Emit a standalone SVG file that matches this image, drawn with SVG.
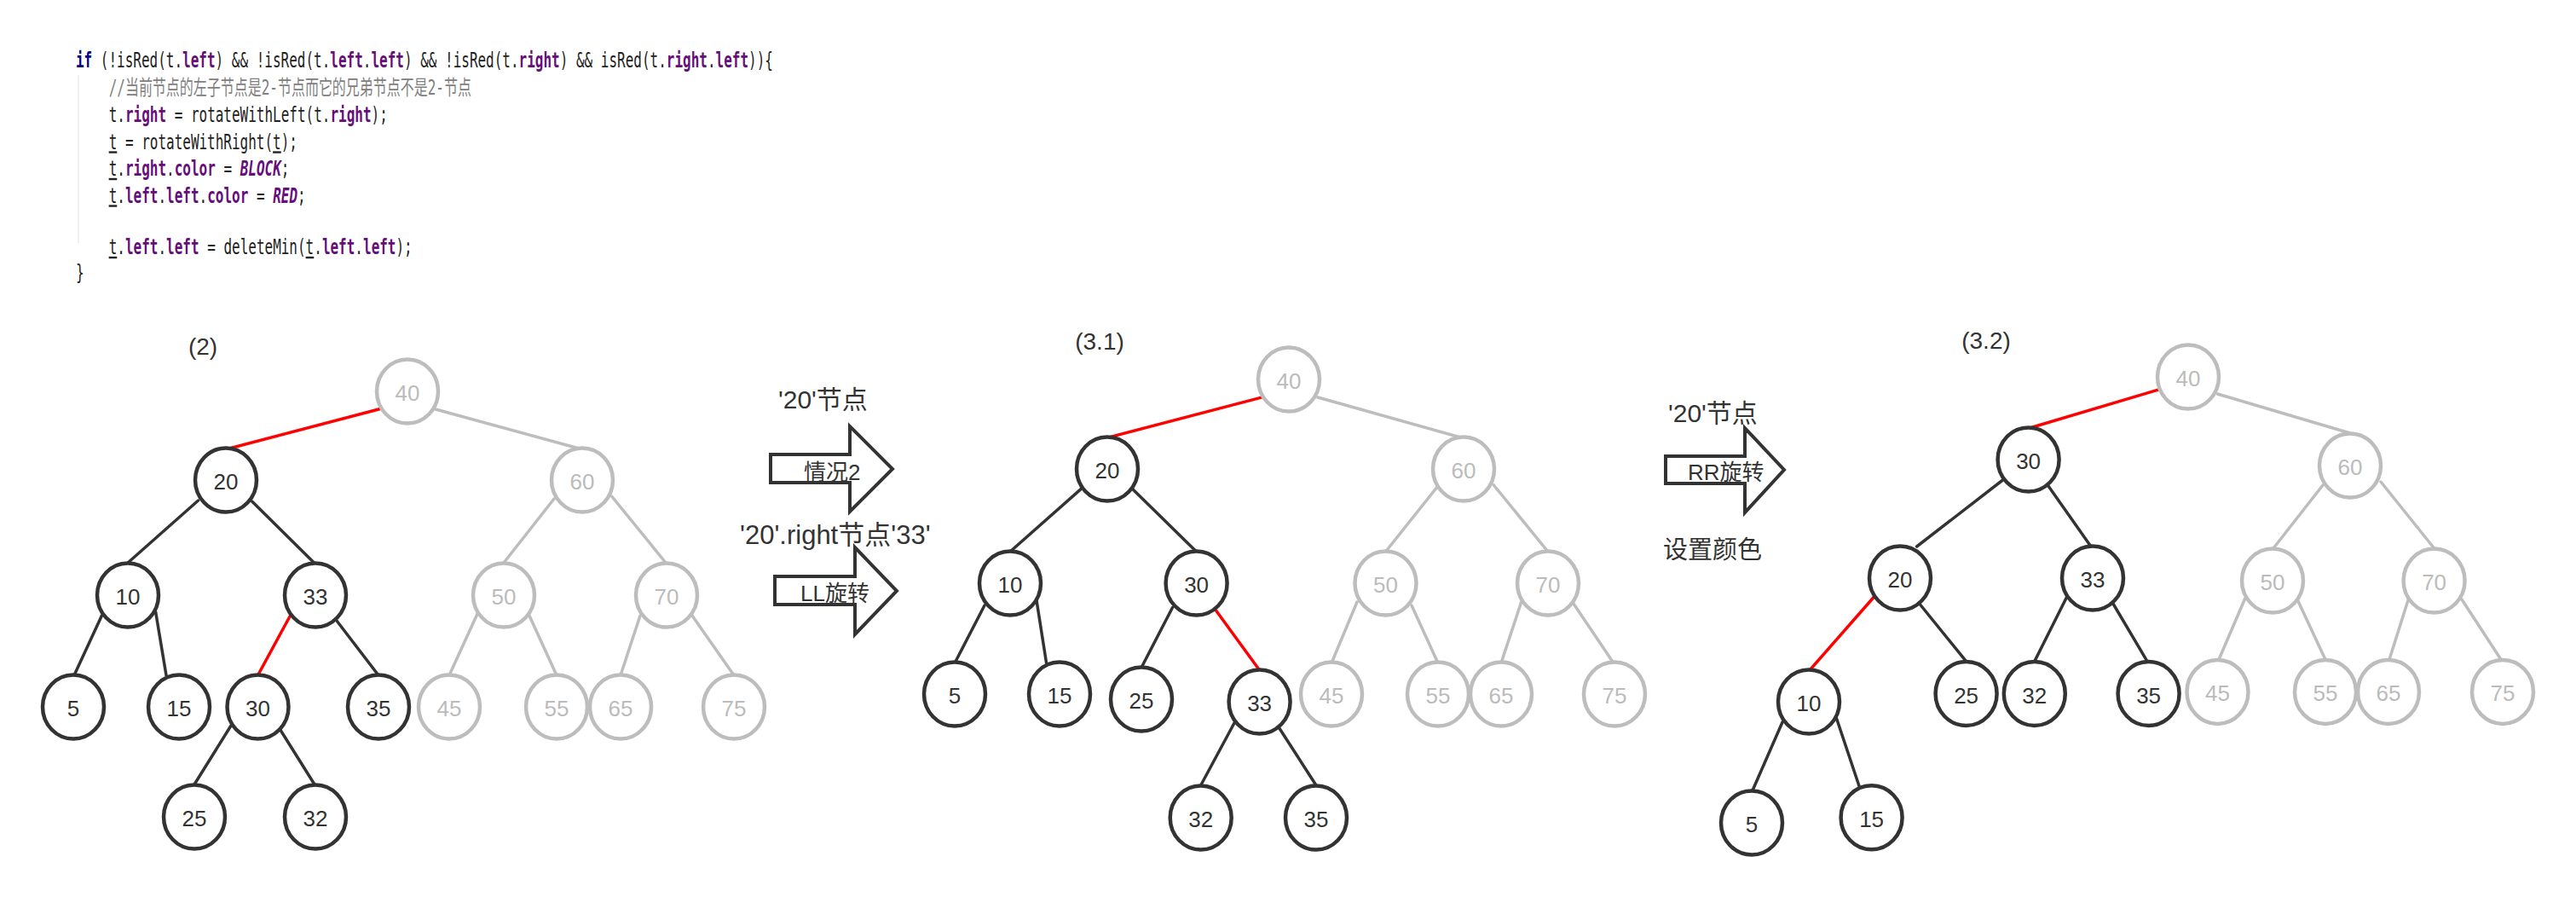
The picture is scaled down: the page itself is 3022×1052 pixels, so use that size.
<svg xmlns="http://www.w3.org/2000/svg" width="3022" height="1052" viewBox="0 0 3022 1052">
<style>
.bg{fill:#fff}
.n ellipse{fill:#fff;stroke-width:4.5}
.n text{font-family:"Liberation Sans","Noto Sans",sans-serif;font-size:26px;text-anchor:middle}
.d ellipse{stroke:#333}
.d text{fill:#333}
.g ellipse{stroke:#bdbdbd}
.g text{fill:#bbb}
.e line{stroke-width:3.5;stroke-linecap:round}
.ed{stroke:#333}
.eg{stroke:#bdbdbd}
.er{stroke:#f00;stroke-width:4}
.arr{fill:#fff;stroke:#333;stroke-width:4;stroke-linejoin:miter}
.lbl{font-family:"Liberation Sans","Noto Sans CJK SC",sans-serif;fill:#333}
.code{font-family:"DejaVu Sans Mono","Liberation Mono","Noto Sans CJK SC",monospace;font-size:24px;fill:#222}
.kw{fill:#000080;font-weight:bold}
.f{fill:#660e7a;font-weight:bold}
.fi{fill:#660e7a;font-weight:bold;font-style:italic}
.cm{fill:#808080}
.u{text-decoration:underline}
</style>
<rect class="bg" x="0" y="0" width="3022" height="1052"/>

<!-- code block -->
<g id="code">
<line x1="92" y1="88" x2="92" y2="285" stroke="#ececec" stroke-width="1.5"/>
<g transform="translate(89,0) scale(0.6665,1)">
<text class="code" x="0" y="79"><tspan class="kw">if</tspan> (!isRed(t.<tspan class="f">left</tspan>) &amp;&amp; !isRed(t.<tspan class="f">left</tspan>.<tspan class="f">left</tspan>) &amp;&amp; !isRed(t.<tspan class="f">right</tspan>) &amp;&amp; isRed(t.<tspan class="f">right</tspan>.<tspan class="f">left</tspan>)){</text>
<text class="code cm" x="58" y="111">//当前节点的左子节点是2-节点而它的兄弟节点不是2-节点</text>
<text class="code" x="58" y="143">t.<tspan class="f">right</tspan> = rotateWithLeft(t.<tspan class="f">right</tspan>);</text>
<text class="code" x="58" y="175"><tspan class="u">t</tspan> = rotateWithRight(<tspan class="u">t</tspan>);</text>
<text class="code" x="58" y="206.5"><tspan class="u">t</tspan>.<tspan class="f">right</tspan>.<tspan class="f">color</tspan> = <tspan class="fi">BLOCK</tspan>;</text>
<text class="code" x="58" y="238"><tspan class="u">t</tspan>.<tspan class="f">left</tspan>.<tspan class="f">left</tspan>.<tspan class="f">color</tspan> = <tspan class="fi">RED</tspan>;</text>
<text class="code" x="58" y="298.5"><tspan class="u">t</tspan>.<tspan class="f">left</tspan>.<tspan class="f">left</tspan> = deleteMin(<tspan class="u">t</tspan>.<tspan class="f">left</tspan>.<tspan class="f">left</tspan>);</text>
<text class="code" x="0" y="328">}</text>
</g>
</g>

<!-- step labels -->
<text class="lbl" x="238" y="416" font-size="28" text-anchor="middle">(2)</text>
<text class="lbl" x="1290" y="410" font-size="28" text-anchor="middle">(3.1)</text>
<text class="lbl" x="2330" y="409" font-size="28" text-anchor="middle">(3.2)</text>

<!-- transition arrows and captions -->
<g id="arrow1">
<text class="lbl" x="913" y="479" font-size="30">'20'节点</text>
<polygon class="arr" points="904,533 997,533 997,500 1047,550 997,600 997,566 904,566"/>
<text class="lbl" x="943" y="563" font-size="26">情况2</text>
</g>
<g id="arrow2">
<text class="lbl" x="868" y="638" font-size="31">'20'.right节点'33'</text>
<polygon class="arr" points="909,676 1003,676 1003,642 1052,693 1003,744 1003,709 909,709"/>
<text class="lbl" x="939" y="705" font-size="26">LL旋转</text>
</g>
<g id="arrow3">
<text class="lbl" x="1957" y="494.5" font-size="30">'20'节点</text>
<polygon class="arr" points="1954,535 2047,535 2047,502 2093,551 2047,601 2047,567 1954,567"/>
<text class="lbl" x="1980" y="563" font-size="26">RR旋转</text>
<text class="lbl" x="1951" y="654.5" font-size="29">设置颜色</text>
</g>

<!-- connectors -->
<g id="connectors" class="e">
<!-- tree (2) -->
<line class="er" x1="448" y1="479" x2="265" y2="527"/>
<line class="eg" x1="511" y1="480" x2="683" y2="527"/>
<line class="ed" x1="232.5" y1="587" x2="150" y2="660"/>
<line class="ed" x1="295.6" y1="588" x2="368.5" y2="660"/>
<line class="eg" x1="650" y1="585" x2="591" y2="660"/>
<line class="eg" x1="717.6" y1="582" x2="781" y2="660"/>
<line class="ed" x1="119.4" y1="722" x2="87" y2="792"/>
<line class="ed" x1="182.5" y1="717" x2="195" y2="792"/>
<line class="er" x1="341.6" y1="720" x2="302.5" y2="792"/>
<line class="ed" x1="395" y1="728" x2="444" y2="792"/>
<line class="eg" x1="560" y1="720" x2="527" y2="792"/>
<line class="eg" x1="621" y1="722" x2="653" y2="792"/>
<line class="eg" x1="751" y1="722" x2="728" y2="792"/>
<line class="eg" x1="812" y1="722" x2="861" y2="792"/>
<line class="ed" x1="271" y1="851" x2="228" y2="920"/>
<line class="ed" x1="327" y1="853" x2="369" y2="920"/>
<!-- tree (3.1) -->
<line class="er" x1="1482.7" y1="465.4" x2="1299" y2="513.4"/>
<line class="eg" x1="1546" y1="466" x2="1717" y2="514"/>
<line class="ed" x1="1268" y1="573.6" x2="1185" y2="647"/>
<line class="ed" x1="1328.6" y1="573.6" x2="1403.6" y2="647"/>
<line class="eg" x1="1685.7" y1="571.5" x2="1625.5" y2="647"/>
<line class="eg" x1="1752" y1="568.5" x2="1816" y2="647"/>
<line class="ed" x1="1155" y1="710" x2="1120" y2="777.7"/>
<line class="ed" x1="1216" y1="704" x2="1227.6" y2="777.7"/>
<line class="ed" x1="1375.5" y1="712.5" x2="1339" y2="783"/>
<line class="er" x1="1424" y1="712.5" x2="1477.6" y2="786"/>
<line class="eg" x1="1592" y1="706" x2="1562" y2="777.7"/>
<line class="eg" x1="1656" y1="710" x2="1687" y2="777.7"/>
<line class="eg" x1="1784.7" y1="706" x2="1761" y2="777.7"/>
<line class="eg" x1="1846" y1="708" x2="1893" y2="777.7"/>
<line class="ed" x1="1448.5" y1="847" x2="1408.7" y2="921"/>
<line class="ed" x1="1500.5" y1="853.5" x2="1544" y2="921"/>
<!-- tree (3.2) -->
<line class="er" x1="2533.5" y1="456.6" x2="2381" y2="502"/>
<line class="eg" x1="2601.5" y1="462" x2="2757" y2="508"/>
<line class="ed" x1="2349.5" y1="563" x2="2248.6" y2="641"/>
<line class="ed" x1="2403" y1="570" x2="2453" y2="641"/>
<line class="eg" x1="2725" y1="569" x2="2667" y2="643"/>
<line class="eg" x1="2793" y1="565" x2="2855.6" y2="643"/>
<line class="er" x1="2198.5" y1="700" x2="2123" y2="786"/>
<line class="ed" x1="2253" y1="709.5" x2="2306.6" y2="775.6"/>
<line class="ed" x1="2424.7" y1="700" x2="2386.8" y2="775.6"/>
<line class="ed" x1="2478.4" y1="707" x2="2519" y2="775.6"/>
<line class="eg" x1="2633.7" y1="702" x2="2603" y2="773.5"/>
<line class="eg" x1="2696" y1="705" x2="2728" y2="773.5"/>
<line class="eg" x1="2825" y1="704" x2="2803" y2="773.5"/>
<line class="eg" x1="2888" y1="703" x2="2934" y2="773.5"/>
<line class="ed" x1="2091" y1="847" x2="2056" y2="927"/>
<line class="ed" x1="2154" y1="841" x2="2181" y2="921.7"/>
</g>

<!-- tree (2) nodes -->
<g id="t2-40" class="n g"><ellipse cx="478" cy="459" rx="36" ry="37.5"/><text x="478" y="470">40</text></g>
<g id="t2-20" class="n d"><ellipse cx="265" cy="563" rx="36" ry="37.5"/><text x="265" y="574">20</text></g>
<g id="t2-60" class="n g"><ellipse cx="683" cy="563" rx="36" ry="37.5"/><text x="683" y="574">60</text></g>
<g id="t2-10" class="n d"><ellipse cx="150" cy="698" rx="36" ry="37.5"/><text x="150" y="709">10</text></g>
<g id="t2-33" class="n d"><ellipse cx="370" cy="698" rx="36" ry="37.5"/><text x="370" y="709">33</text></g>
<g id="t2-50" class="n g"><ellipse cx="591" cy="698" rx="36" ry="37.5"/><text x="591" y="709">50</text></g>
<g id="t2-70" class="n g"><ellipse cx="782" cy="698" rx="36" ry="37.5"/><text x="782" y="709">70</text></g>
<g id="t2-5" class="n d"><ellipse cx="86" cy="829" rx="36" ry="37.5"/><text x="86" y="840">5</text></g>
<g id="t2-15" class="n d"><ellipse cx="210" cy="829" rx="36" ry="37.5"/><text x="210" y="840">15</text></g>
<g id="t2-30" class="n d"><ellipse cx="302.5" cy="829" rx="36" ry="37.5"/><text x="302.5" y="840">30</text></g>
<g id="t2-35" class="n d"><ellipse cx="444" cy="829" rx="36" ry="37.5"/><text x="444" y="840">35</text></g>
<g id="t2-45" class="n g"><ellipse cx="527" cy="829" rx="36" ry="37.5"/><text x="527" y="840">45</text></g>
<g id="t2-55" class="n g"><ellipse cx="653" cy="829" rx="36" ry="37.5"/><text x="653" y="840">55</text></g>
<g id="t2-65" class="n g"><ellipse cx="728" cy="829" rx="36" ry="37.5"/><text x="728" y="840">65</text></g>
<g id="t2-75" class="n g"><ellipse cx="861" cy="829" rx="36" ry="37.5"/><text x="861" y="840">75</text></g>
<g id="t2-25" class="n d"><ellipse cx="228" cy="958" rx="36" ry="37.5"/><text x="228" y="969">25</text></g>
<g id="t2-32" class="n d"><ellipse cx="370" cy="958" rx="36" ry="37.5"/><text x="370" y="969">32</text></g>

<!-- tree (3.1) nodes -->
<g id="t31-40" class="n g"><ellipse cx="1512" cy="445" rx="36" ry="37.5"/><text x="1512" y="456">40</text></g>
<g id="t31-20" class="n d"><ellipse cx="1299" cy="550" rx="36" ry="37.5"/><text x="1299" y="561">20</text></g>
<g id="t31-60" class="n g"><ellipse cx="1717" cy="550" rx="36" ry="37.5"/><text x="1717" y="561">60</text></g>
<g id="t31-10" class="n d"><ellipse cx="1185" cy="684" rx="36" ry="37.5"/><text x="1185" y="695">10</text></g>
<g id="t31-30" class="n d"><ellipse cx="1403.6" cy="684" rx="36" ry="37.5"/><text x="1403.6" y="695">30</text></g>
<g id="t31-50" class="n g"><ellipse cx="1625.5" cy="684" rx="36" ry="37.5"/><text x="1625.5" y="695">50</text></g>
<g id="t31-70" class="n g"><ellipse cx="1816" cy="684" rx="36" ry="37.5"/><text x="1816" y="695">70</text></g>
<g id="t31-5" class="n d"><ellipse cx="1120" cy="814" rx="36" ry="37.5"/><text x="1120" y="825">5</text></g>
<g id="t31-15" class="n d"><ellipse cx="1243" cy="814" rx="36" ry="37.5"/><text x="1243" y="825">15</text></g>
<g id="t31-25" class="n d"><ellipse cx="1339" cy="820" rx="36" ry="37.5"/><text x="1339" y="831">25</text></g>
<g id="t31-33" class="n d"><ellipse cx="1477.6" cy="823" rx="36" ry="37.5"/><text x="1477.6" y="834">33</text></g>
<g id="t31-45" class="n g"><ellipse cx="1562" cy="814" rx="36" ry="37.5"/><text x="1562" y="825">45</text></g>
<g id="t31-55" class="n g"><ellipse cx="1687" cy="814" rx="36" ry="37.5"/><text x="1687" y="825">55</text></g>
<g id="t31-65" class="n g"><ellipse cx="1761" cy="814" rx="36" ry="37.5"/><text x="1761" y="825">65</text></g>
<g id="t31-75" class="n g"><ellipse cx="1894" cy="814" rx="36" ry="37.5"/><text x="1894" y="825">75</text></g>
<g id="t31-32" class="n d"><ellipse cx="1408.7" cy="959" rx="36" ry="37.5"/><text x="1408.7" y="970">32</text></g>
<g id="t31-35" class="n d"><ellipse cx="1544" cy="959" rx="36" ry="37.5"/><text x="1544" y="970">35</text></g>

<!-- tree (3.2) nodes -->
<g id="t32-40" class="n g"><ellipse cx="2567" cy="442" rx="36" ry="37.5"/><text x="2567" y="453">40</text></g>
<g id="t32-30" class="n d"><ellipse cx="2379.6" cy="539" rx="36" ry="37.5"/><text x="2379.6" y="550">30</text></g>
<g id="t32-60" class="n g"><ellipse cx="2757" cy="546" rx="36" ry="37.5"/><text x="2757" y="557">60</text></g>
<g id="t32-20" class="n d"><ellipse cx="2229" cy="678" rx="36" ry="37.5"/><text x="2229" y="689">20</text></g>
<g id="t32-33" class="n d"><ellipse cx="2455" cy="678" rx="36" ry="37.5"/><text x="2455" y="689">33</text></g>
<g id="t32-50" class="n g"><ellipse cx="2666" cy="681" rx="36" ry="37.5"/><text x="2666" y="692">50</text></g>
<g id="t32-70" class="n g"><ellipse cx="2855.6" cy="681" rx="36" ry="37.5"/><text x="2855.6" y="692">70</text></g>
<g id="t32-10" class="n d"><ellipse cx="2122" cy="823" rx="36" ry="37.5"/><text x="2122" y="834">10</text></g>
<g id="t32-25" class="n d"><ellipse cx="2306.6" cy="813.5" rx="36" ry="37.5"/><text x="2306.6" y="824.5">25</text></g>
<g id="t32-32" class="n d"><ellipse cx="2386.8" cy="813.5" rx="36" ry="37.5"/><text x="2386.8" y="824.5">32</text></g>
<g id="t32-35" class="n d"><ellipse cx="2520.6" cy="813.5" rx="36" ry="37.5"/><text x="2520.6" y="824.5">35</text></g>
<g id="t32-45" class="n g"><ellipse cx="2601.5" cy="811.4" rx="36" ry="37.5"/><text x="2601.5" y="822.4">45</text></g>
<g id="t32-55" class="n g"><ellipse cx="2728" cy="811.4" rx="36" ry="37.5"/><text x="2728" y="822.4">55</text></g>
<g id="t32-65" class="n g"><ellipse cx="2802" cy="811.4" rx="36" ry="37.5"/><text x="2802" y="822.4">65</text></g>
<g id="t32-75" class="n g"><ellipse cx="2936" cy="811.4" rx="36" ry="37.5"/><text x="2936" y="822.4">75</text></g>
<g id="t32-5" class="n d"><ellipse cx="2055" cy="965" rx="36" ry="37.5"/><text x="2055" y="976">5</text></g>
<g id="t32-15" class="n d"><ellipse cx="2195.6" cy="958.7" rx="36" ry="37.5"/><text x="2195.6" y="969.7">15</text></g>
</svg>
